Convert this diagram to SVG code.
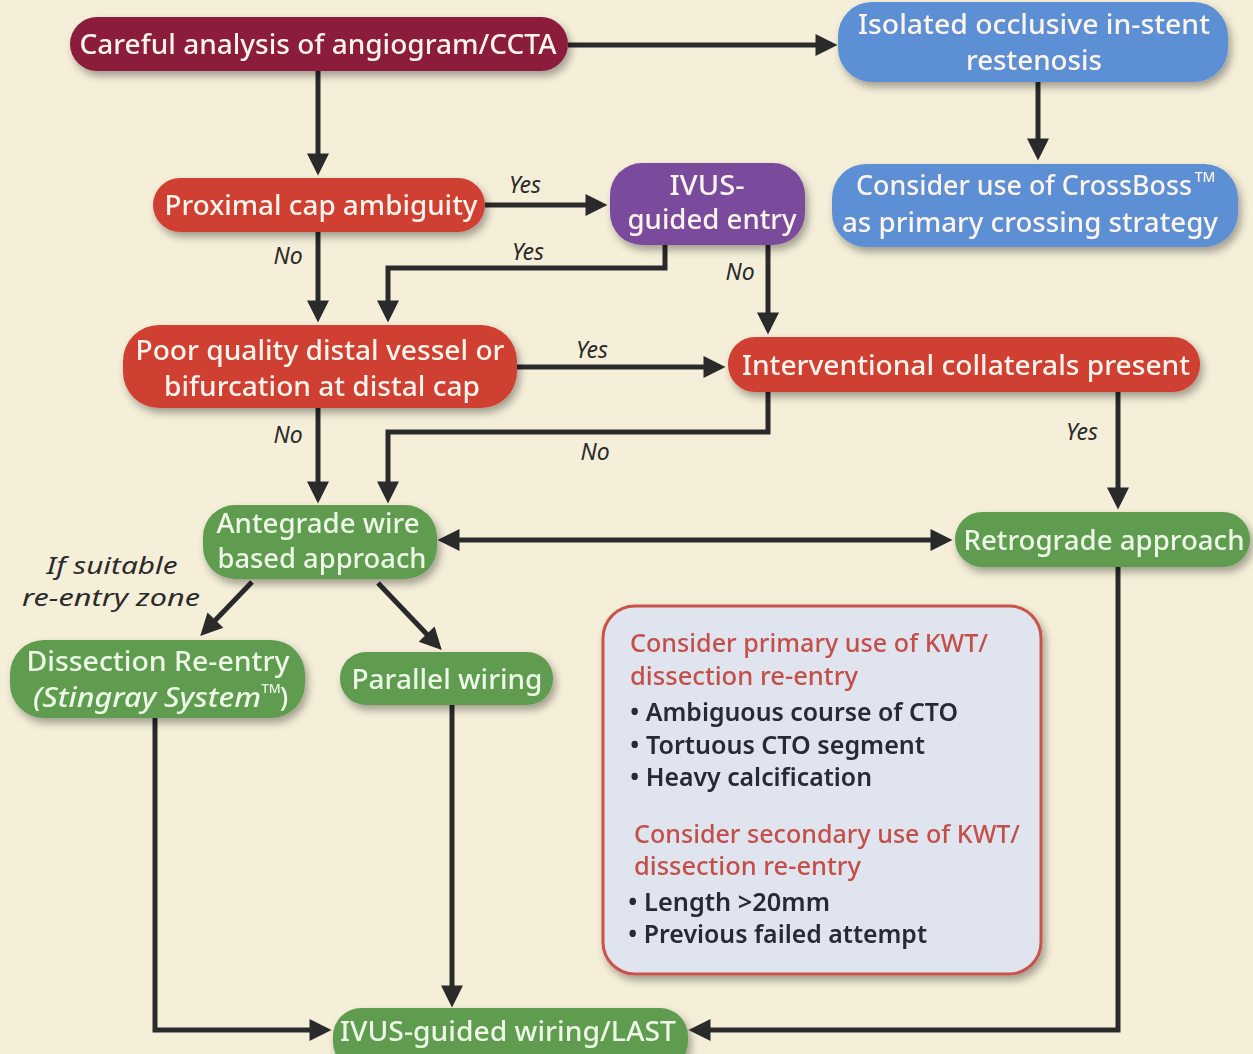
<svg xmlns="http://www.w3.org/2000/svg" width="1253" height="1054" viewBox="0 0 1253 1054">
<style>
.nt{font-family:"Noto Sans","Open Sans",sans-serif;font-size:27px;font-weight:500;fill:#fdf4ec;text-anchor:middle;}
.gt{font-family:"Noto Sans","Open Sans",sans-serif;font-size:27px;font-weight:500;fill:#eef8e6;text-anchor:middle;}
.lb{font-family:"Noto Sans","Open Sans",sans-serif;font-size:23px;font-style:italic;fill:#2b2b2b;text-anchor:middle;}
.ih{font-family:"Noto Sans","Open Sans",sans-serif;font-size:25px;font-weight:500;fill:#c4504a;}
.ib{font-family:"Noto Sans","Open Sans",sans-serif;font-size:25px;font-weight:600;fill:#262a36;}
.cn{fill:none;stroke:#2a2a2a;stroke-width:5;marker-end:url(#ah);}
.node{filter:url(#sh);}
</style>
<defs>
<marker id="ah" viewBox="0 0 10 10" refX="7.5" refY="5" markerWidth="26" markerHeight="22" markerUnits="userSpaceOnUse" orient="auto-start-reverse">
<path d="M0,0 L10,5 L0,10 z" fill="#2a2a2a"/>
</marker>
<filter id="sh" x="-10%" y="-20%" width="125%" height="160%">
<feGaussianBlur in="SourceAlpha" stdDeviation="4"/>
<feOffset dx="3" dy="5" result="b"/>
<feComponentTransfer><feFuncA type="linear" slope="0.35"/></feComponentTransfer>
<feMerge><feMergeNode/><feMergeNode in="SourceGraphic"/></feMerge>
</filter>
</defs>
<rect x="0" y="0" width="1253" height="1054" fill="#f5efd9"/>

<g id="connectors">
<path class="cn" d="M568,45 H832"/>
<path class="cn" d="M1038,82 V155"/>
<path class="cn" d="M318,70 V170"/>
<path class="cn" d="M485,205 H602"/>
<path class="cn" d="M318,232 V317"/>
<path class="cn" d="M665,245 V268 H388 V317"/>
<path class="cn" d="M768,245 V329"/>
<path class="cn" d="M517,367 H720"/>
<path class="cn" d="M318,408 V498"/>
<path class="cn" d="M768,392 V432 H388 V498"/>
<path class="cn" d="M1118,392 V504"/>
<path class="cn" d="M443,540 H947" marker-start="url(#ah)"/>
<path class="cn" d="M252,582 L204,632"/>
<path class="cn" d="M378,583 L438,646"/>
<path class="cn" d="M155,718 V1030 H326"/>
<path class="cn" d="M452,705 V1002"/>
<path class="cn" d="M1118,567 V1030 H694"/>
<text class="lb" x="525" y="193">Yes</text>
<text class="lb" x="288" y="264">No</text>
<text class="lb" x="528" y="260">Yes</text>
<text class="lb" x="740" y="280">No</text>
<text class="lb" x="592" y="358">Yes</text>
<text class="lb" x="288" y="443">No</text>
<text class="lb" x="595" y="460">No</text>
<text class="lb" x="1082" y="440">Yes</text>
<text class="lb" x="112" y="574" textLength="131" lengthAdjust="spacingAndGlyphs">If suitable</text>
<text class="lb" x="111" y="606" textLength="178" lengthAdjust="spacingAndGlyphs">re-entry zone</text>
</g>

<g id="n-careful" class="node">
<rect x="70" y="17" width="498" height="54" rx="27" fill="#8b1a3a"/>
<text class="nt" x="318" y="54" textLength="477" lengthAdjust="spacingAndGlyphs">Careful analysis of angiogram/CCTA</text>
</g>
<g id="n-isr" class="node">
<rect x="838" y="2" width="390" height="80" rx="34" fill="#5b8fd4"/>
<text class="nt" x="1034" y="34" textLength="352" lengthAdjust="spacingAndGlyphs">Isolated occlusive in-stent</text>
<text class="nt" x="1034" y="70" textLength="136" lengthAdjust="spacingAndGlyphs">restenosis</text>
</g>
<g id="n-crossboss" class="node">
<rect x="832" y="164" width="406" height="83" rx="34" fill="#5b8fd4"/>
<text class="nt" x="1024" y="195" textLength="336" lengthAdjust="spacingAndGlyphs">Consider use of CrossBoss</text>
<text class="nt" x="1205" y="182" style="font-size:14px">TM</text>
<text class="nt" x="1030" y="232" textLength="376" lengthAdjust="spacingAndGlyphs">as primary crossing strategy</text>
</g>
<g id="n-proximal" class="node">
<rect x="153" y="178" width="332" height="54" rx="27" fill="#cf3f31"/>
<text class="nt" x="321" y="215" textLength="313" lengthAdjust="spacingAndGlyphs">Proximal cap ambiguity</text>
</g>
<g id="n-ivus-entry" class="node">
<rect x="610" y="163" width="195" height="82" rx="32" fill="#7a4c9c"/>
<text class="nt" x="707" y="195" textLength="75" lengthAdjust="spacingAndGlyphs">IVUS-</text>
<text class="nt" x="712" y="229" textLength="169" lengthAdjust="spacingAndGlyphs">guided entry</text>
</g>
<g id="n-poor" class="node">
<rect x="123" y="325" width="394" height="83" rx="36" fill="#cf3f31"/>
<text class="nt" x="320" y="360" textLength="369" lengthAdjust="spacingAndGlyphs">Poor quality distal vessel or</text>
<text class="nt" x="322" y="396" textLength="316" lengthAdjust="spacingAndGlyphs">bifurcation at distal cap</text>
</g>
<g id="n-collaterals" class="node">
<rect x="728" y="337" width="472" height="55" rx="27" fill="#cf3f31"/>
<text class="nt" x="966" y="375" textLength="448" lengthAdjust="spacingAndGlyphs">Interventional collaterals present</text>
</g>
<g id="n-antegrade" class="node">
<rect x="203" y="505" width="234" height="74" rx="32" fill="#5e9c50"/>
<text class="gt" x="318" y="533" textLength="203" lengthAdjust="spacingAndGlyphs">Antegrade wire</text>
<text class="gt" x="322" y="568" textLength="209" lengthAdjust="spacingAndGlyphs">based approach</text>
</g>
<g id="n-retrograde" class="node">
<rect x="955" y="512" width="295" height="55" rx="27" fill="#5e9c50"/>
<text class="gt" x="1104" y="550" textLength="281" lengthAdjust="spacingAndGlyphs">Retrograde approach</text>
</g>
<g id="n-dissection" class="node">
<rect x="10" y="640" width="295" height="78" rx="34" fill="#5e9c50"/>
<text class="gt" x="158" y="671" textLength="263" lengthAdjust="spacingAndGlyphs">Dissection Re-entry</text>
<text class="gt" x="33" y="707" style="font-style:italic;text-anchor:start" textLength="228" lengthAdjust="spacingAndGlyphs">(Stingray System</text>
<text class="gt" x="271" y="693" style="font-size:13px">TM</text>
<text class="gt" x="284" y="707">)</text>
</g>
<g id="n-parallel" class="node">
<rect x="340" y="652" width="213" height="53" rx="26" fill="#5e9c50"/>
<text class="gt" x="447" y="689" textLength="191" lengthAdjust="spacingAndGlyphs">Parallel wiring</text>
</g>
<g id="n-ivus-wiring" class="node">
<rect x="333" y="1008" width="355" height="62" rx="28" fill="#5e9c50"/>
<text class="gt" x="508" y="1041" textLength="336" lengthAdjust="spacingAndGlyphs">IVUS-guided wiring/LAST</text>
</g>
<g id="n-info" class="node">
<rect x="603" y="606" width="438" height="368" rx="32" fill="#dfe4ee" stroke="#c9524b" stroke-width="3"/>
<text class="ih" x="630" y="652" textLength="358" lengthAdjust="spacingAndGlyphs">Consider primary use of KWT/</text>
<text class="ih" x="630" y="685" textLength="228" lengthAdjust="spacingAndGlyphs">dissection re-entry</text>
<text class="ib" x="630" y="721" textLength="328" lengthAdjust="spacingAndGlyphs">• Ambiguous course of CTO</text>
<text class="ib" x="630" y="754" textLength="295" lengthAdjust="spacingAndGlyphs">• Tortuous CTO segment</text>
<text class="ib" x="630" y="786" textLength="242" lengthAdjust="spacingAndGlyphs">• Heavy calcification</text>
<text class="ih" x="634" y="843" textLength="386" lengthAdjust="spacingAndGlyphs">Consider secondary use of KWT/</text>
<text class="ih" x="634" y="875" textLength="227" lengthAdjust="spacingAndGlyphs">dissection re-entry</text>
<text class="ib" x="628" y="911" textLength="202" lengthAdjust="spacingAndGlyphs">• Length &gt;20mm</text>
<text class="ib" x="628" y="943" textLength="299" lengthAdjust="spacingAndGlyphs">• Previous failed attempt</text>
</g>
</svg>
